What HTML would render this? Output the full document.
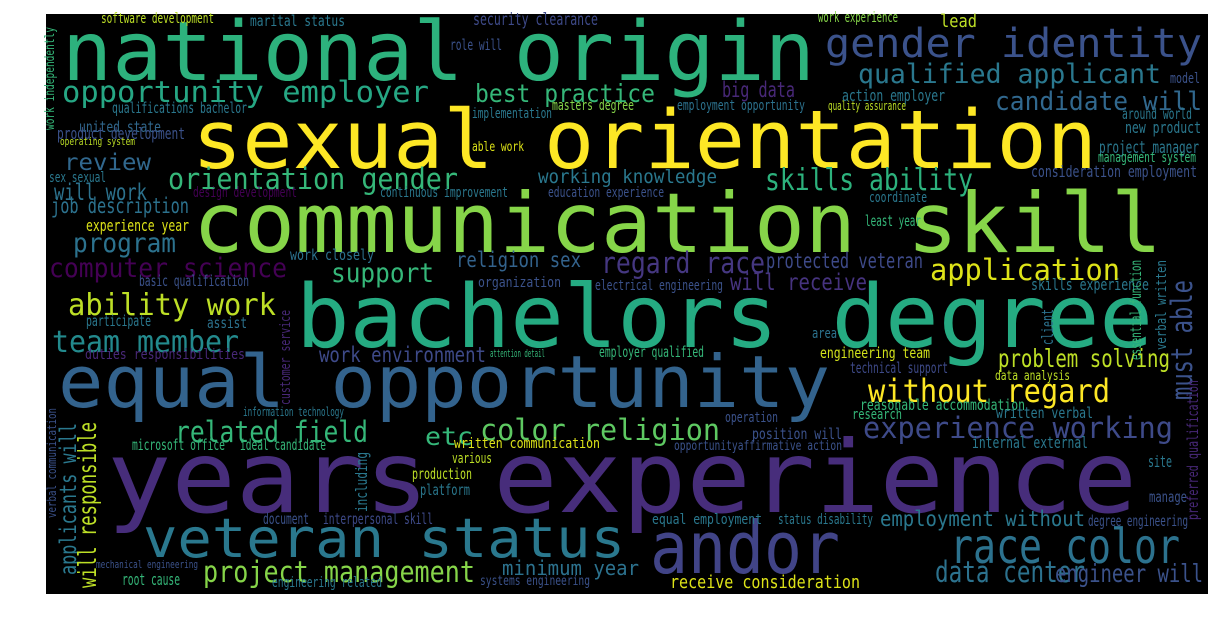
<!DOCTYPE html>
<html><head><meta charset="utf-8"><style>
html,body{margin:0;padding:0;background:#fff;width:1222px;height:629px;overflow:hidden}
svg{display:block}
text{font-family:"DejaVu Sans Mono","Liberation Mono",monospace;white-space:pre}
</style></head><body>
<svg id="cloud" width="1222" height="629" viewBox="0 0 1222 629">
<rect x="46" y="14" width="1162" height="580" fill="#000"/>
</svg>
<script>
// word, x, baseline y, font size, color, text length, rotation
const words = [
["national origin",62,80,82,"#2db27d",753,0],
["sexual orientation",192,168,81,"#fde725",905,0],
["communication skill",193,252,83,"#86d549",969,0],
["bachelors degree",296,347,87,"#25ab82",857,0],
["equal opportunity",58,407,72,"#33638d",772,0],
["years experience",107,512,100,"#472d7b",1030,0],
["veteran status",143,557,54,"#2a788e",482,0],
["andor",650,573,72,"#414487",190,0],
["gender identity",825,57,40,"#3b528b",377,0],
["qualified applicant",858,83,27,"#2a788e",303,0],
["candidate will",995,110,26,"#31688e",207,0],
["opportunity employer",62,102,29,"#26a784",367,0],
["best practice",475,102,25,"#35b779",180,0],
["big data",722,97,21,"#482878",73,0],
["review",64,170,23,"#31688e",87,0],
["orientation gender",168,189,29,"#35b779",290,0],
["skills ability",765,190,30,"#2db27d",208,0],
["working knowledge",538,183,19,"#2a788e",179,0],
["program",73,252,27,"#2c728e",103,0],
["computer science",49,277,27,"#440154",238,0],
["regard race",601,273,29,"#453781",164,0],
["religion sex",456,267,21,"#33638d",125,0],
["support",331,282,27,"#35b779",103,0],
["application",930,280,29,"#dde318",190,0],
["protected veteran",766,268,21,"#3e4a89",157,0],
["will receive",730,290,23,"#46337f",137,0],
["ability work",68,315,30,"#bddf26",208,0],
["team member",52,352,30,"#238a8d",187,0],
["problem solving",998,367,25,"#bddf26",172,0],
["without regard",868,402,32,"#fde725",242,0],
["experience working",863,438,29,"#3e4a89",310,0],
["related field",175,442,29,"#35b779",193,0],
["color religion",480,440,29,"#5ec962",240,0],
["etc",425,445,25,"#35b779",48,0],
["race color",950,563,48,"#2c728e",230,0],
["project management",203,582,29,"#86d549",272,0],
["data center",935,582,29,"#2c728e",150,0],
["engineer will",1055,582,25,"#3b528b",148,0],
["employment without",880,526,21,"#2a788e",205,0],
["degree engineering",1088,526,15,"#3b528b",100,0],
["minimum year",502,575,20,"#2c728e",137,0],
["receive consideration",670,588,18,"#dde318",190,0],
["systems engineering",480,585,13,"#3b528b",110,0],
["equal employment",652,524,14,"#2a788e",110,0],
["status disability",778,524,14,"#2a788e",95,0],
["written communication",454,448,14,"#dde318",146,0],
["various",452,463,14,"#bddf26",40,0],
["production",412,479,15,"#bddf26",60,0],
["platform",420,495,15,"#2a788e",50,0],
["operation",725,422,14,"#3b528b",53,0],
["position will",752,439,15,"#3b528b",90,0],
["opportunityaffirmative action",674,450,13,"#3b528b",168,0],
["work environment",319,362,21,"#3e4a89",167,0],
["employer qualified",599,357,15,"#35b779",105,0],
["engineering team",820,358,15,"#d2e21b",110,0],
["technical support",850,373,15,"#3e4a89",98,0],
["data analysis",995,380,13,"#bddf26",75,0],
["reasonable accommodation",860,410,15,"#35b779",165,0],
["research",852,419,14,"#35b779",50,0],
["written verbal",996,418,15,"#2a788e",97,0],
["internal external",972,448,16,"#2a788e",116,0],
["site",1148,467,16,"#2a788e",24,0],
["manage",1149,502,15,"#3b528b",38,0],
["microsoft office",132,450,15,"#35b779",93,0],
["ideal candidate",240,450,15,"#35b779",86,0],
["information technology",243,416,12,"#2a788e",101,0],
["interpersonal skill",323,524,15,"#3e4a89",110,0],
["document",263,524,15,"#3b528b",46,0],
["root cause",122,585,16,"#35b779",58,0],
["engineering related",272,587,14,"#2a788e",110,0],
["mechanical engineering",96,568,11,"#3b528b",102,0],
["software development",101,23,14,"#bddf26",113,0],
["marital status",250,26,15,"#2a788e",95,0],
["security clearance",473,25,17,"#3e4a89",125,0],
["role will",450,50,15,"#3b528b",52,0],
["work experience",818,22,14,"#86d549",80,0],
["lead",940,27,18,"#bddf26",37,0],
["action employer",842,101,16,"#2a788e",103,0],
["quality assurance",828,110,12,"#bddf26",78,0],
["model",1170,83,14,"#3b528b",30,0],
["around world",1122,119,15,"#2a788e",70,0],
["new product",1125,133,16,"#2a788e",76,0],
["project manager",1099,153,17,"#2a788e",100,0],
["management system",1098,162,14,"#35b779",98,0],
["consideration employment",1031,177,16,"#3b528b",166,0],
["coordinate",869,202,14,"#2a788e",58,0],
["least year",865,226,15,"#35b779",56,0],
["skills experience",1031,290,16,"#2a788e",118,0],
["masters degree",552,110,14,"#86d549",82,0],
["employment opportunity",677,110,14,"#2c728e",128,0],
["implementation",472,118,14,"#2a788e",80,0],
["able work",472,151,13,"#dde318",52,0],
["continuous improvement",380,197,14,"#2a788e",128,0],
["education experience",548,197,14,"#3b528b",116,0],
["design development",193,197,14,"#440154",104,0],
["work closely",290,260,15,"#2c728e",84,0],
["organization",478,287,14,"#3b528b",83,0],
["electrical engineering",595,290,14,"#3b528b",128,0],
["qualifications bachelor",112,113,15,"#2a788e",135,0],
["united state",79,132,15,"#31688e",82,0],
["product development",57,139,16,"#3b528b",128,0],
["operating system",60,145,11,"#bddf26",75,0],
["sex sexual",49,182,14,"#2a788e",57,0],
["will work",54,200,23,"#2c728e",93,0],
["job description",51,213,21,"#2c728e",138,0],
["experience year",86,231,16,"#dde318",103,0],
["basic qualification",139,286,15,"#3b528b",110,0],
["participate",86,326,15,"#2a788e",65,0],
["assist",207,328,15,"#2c728e",40,0],
["duties responsibilities",85,359,14,"#482878",160,0],
["area",812,338,14,"#2c728e",25,0],
["attention detail",490,357,11,"#35b779",55,0],
["applicants will",76,575,23,"#2a788e",152,-90],
["will responsible",96,588,25,"#bddf26",166,-90],
["verbal communication",56,518,12,"#3b528b",110,-90],
["work independently",54,130,13,"#35b779",103,-90],
["including",367,512,16,"#2a788e",60,-90],
["customer service",290,405,14,"#482878",95,-90],
["must able",1192,400,29,"#3b528b",120,-90],
["client",1053,345,16,"#2c728e",36,-90],
["essential function",1141,360,15,"#35b779",100,-90],
["verbal written",1166,350,14,"#2a788e",90,-90],
["preferred qualification",1198,520,15,"#482878",140,-90]
];
const svg = document.getElementById('cloud');
for (const w of words) {
  const t = document.createElementNS('http://www.w3.org/2000/svg','text');
  t.textContent = w[0];
  t.setAttribute('x', w[1]);
  t.setAttribute('y', w[2]);
  t.setAttribute('font-size', w[3]);
  t.setAttribute('fill', w[4]);
  t.setAttribute('textLength', w[5]);
  t.setAttribute('lengthAdjust', 'spacingAndGlyphs');
  if (w[6]) t.setAttribute('transform', 'rotate(' + w[6] + ' ' + w[1] + ' ' + w[2] + ')');
  
  
  svg.appendChild(t);
}
</script>
</body></html>
